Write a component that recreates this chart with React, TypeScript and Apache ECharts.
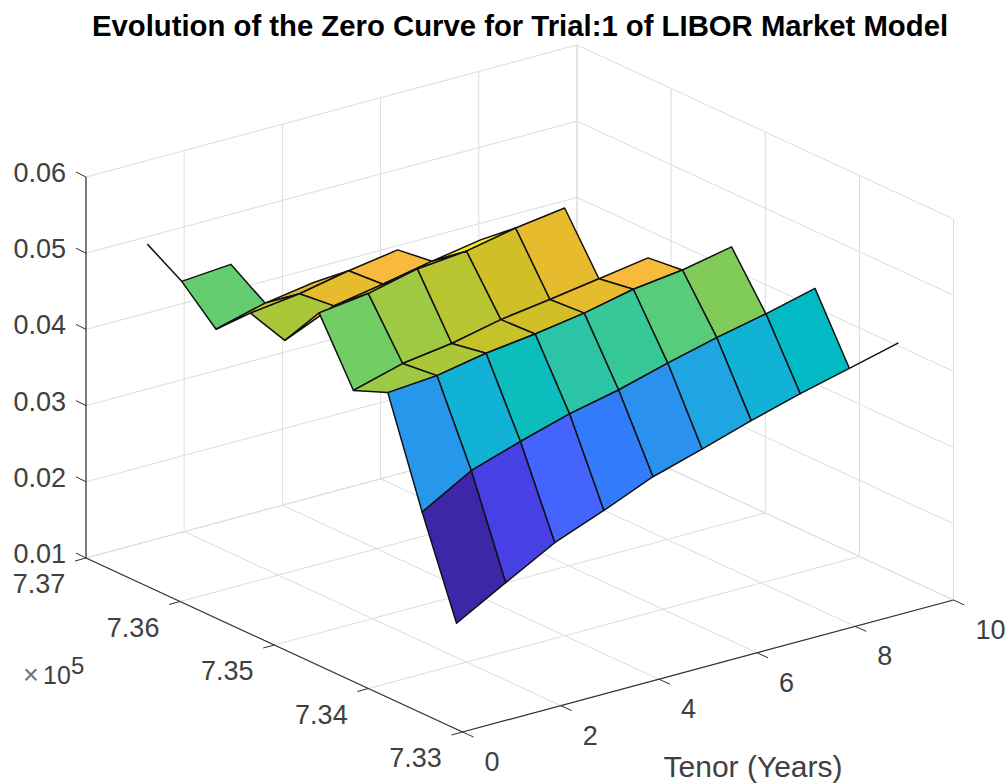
import React, { useEffect, useRef } from "react";
import * as echarts from "echarts";

// Simulation dates (serial day numbers), one per curve, earliest first
const dates = [733585, 733950, 734315, 734680, 735045, 735410, 735775, 736140, 736505, 736870];
const tenors = [1, 2, 3, 4, 5, 6, 7, 8, 9, 10];

// Zero rates: each later date has one tenor fewer
const curve1 = [0.0192, 0.0228, 0.0263, 0.0288, 0.0315, 0.0334, 0.0354, 0.0372, 0.0388, 0.0404];
const curve2 = [0.0317, 0.0354, 0.0375, 0.0394, 0.0408, 0.0426, 0.0442, 0.0456, 0.0472];
const curve3 = [0.0453, 0.0458, 0.047, 0.0478, 0.0488, 0.0502, 0.051, 0.0523];
const curve4 = [0.0435, 0.0453, 0.0462, 0.0476, 0.0485, 0.0495, 0.0505];
const curve5 = [0.0516, 0.0524, 0.0539, 0.0545, 0.0558, 0.0567];
const curve6 = [0.0459, 0.0487, 0.0498, 0.0511, 0.0522];
const curve7 = [0.0474, 0.0482, 0.0495, 0.0505];
const curve8 = [0.0432, 0.0449, 0.0459];
const curve9 = [0.0474, 0.0479];
const curve10 = [0.0502];
const curves = [curve1, curve2, curve3, curve4, curve5, curve6, curve7, curve8, curve9, curve10];

const tenorTicks = [0, 2, 4, 6, 8, 10];
const dateTicks = [733000, 734000, 735000, 736000, 737000];
const dateTickLabels = ["7.33", "7.34", "7.35", "7.36", "7.37"];
const rateTicks = [0.01, 0.02, 0.03, 0.04, 0.05, 0.06];

const parula = [
  [0.2422, 0.1504, 0.6603], [0.2504, 0.165, 0.7076], [0.2578, 0.1818, 0.7511], [0.2647, 0.1978, 0.7952],
  [0.2706, 0.2147, 0.8364], [0.2751, 0.2342, 0.871], [0.2783, 0.2559, 0.8991], [0.2803, 0.2782, 0.9221],
  [0.2813, 0.3006, 0.9414], [0.281, 0.3228, 0.9579], [0.2795, 0.3447, 0.9717], [0.276, 0.3667, 0.9829],
  [0.2699, 0.3892, 0.9906], [0.2602, 0.4123, 0.9952], [0.244, 0.4358, 0.9988], [0.2206, 0.4603, 0.9973],
  [0.1963, 0.4847, 0.9892], [0.1834, 0.5074, 0.9798], [0.1786, 0.5289, 0.9682], [0.1764, 0.5499, 0.952],
  [0.1687, 0.5703, 0.9359], [0.154, 0.5902, 0.9218], [0.146, 0.6091, 0.9079], [0.138, 0.6276, 0.8973],
  [0.1248, 0.6459, 0.8883], [0.1113, 0.6635, 0.8763], [0.0952, 0.6798, 0.8598], [0.0689, 0.6948, 0.8394],
  [0.0297, 0.7082, 0.8163], [0.0036, 0.7203, 0.7917], [0.0067, 0.7312, 0.766], [0.0433, 0.7411, 0.7394],
  [0.0964, 0.75, 0.712], [0.1408, 0.7584, 0.6842], [0.1717, 0.767, 0.6554], [0.1938, 0.7758, 0.6251],
  [0.2161, 0.7843, 0.5923], [0.247, 0.7918, 0.5567], [0.2906, 0.7973, 0.5188], [0.3406, 0.8008, 0.4789],
  [0.3909, 0.8029, 0.4354], [0.4456, 0.8024, 0.3909], [0.5044, 0.7993, 0.348], [0.5616, 0.7942, 0.3045],
  [0.6174, 0.7876, 0.2612], [0.672, 0.7793, 0.2227], [0.7242, 0.7698, 0.191], [0.7738, 0.7598, 0.1646],
  [0.8203, 0.7498, 0.1535], [0.8634, 0.7406, 0.1596], [0.9035, 0.733, 0.1774], [0.9393, 0.7288, 0.21],
  [0.9728, 0.7298, 0.2394], [0.9956, 0.7434, 0.2371], [0.997, 0.7659, 0.2199], [0.9952, 0.7861, 0.1967],
  [0.9892, 0.8137, 0.1816], [0.9786, 0.8396, 0.151], [0.9676, 0.8651, 0.1386], [0.961, 0.8906, 0.1276],
  [0.9597, 0.9135, 0.1423], [0.9628, 0.9373, 0.1265], [0.9691, 0.9606, 0.1064], [0.9769, 0.9839, 0.0805],
];

const FONT = '"Liberation Sans", Arial, Helvetica, sans-serif';
const TEXT = "#404040";
const AXIS = "#303030";
const GRID = "#dcdcdc";
const TICK_FONT = 27;

// Orthographic view of the box: pixel position of the near floor corner and edges of the box
const VIEW = { ox: 462.5, oy: 732, xx: 49.1, xy: -13.2, yx: -376.5, yy: -174, zy: -7620 };
function project(tenor: number, date: number, rate: number): number[] {
  const f = (date - 733000) / 4000;
  return [
    VIEW.ox + VIEW.xx * tenor + VIEW.yx * f,
    VIEW.oy + VIEW.xy * tenor + VIEW.yy * f + VIEW.zy * (rate - 0.01),
  ];
}

const allRates = curves.flat();
const zMin = Math.min(...allRates);
const zMax = Math.max(...allRates);
function cellColor(z: number): string {
  const i = Math.min(63, Math.floor(((z - zMin) / (zMax - zMin)) * 64));
  const [r, g, b] = parula[i];
  return `rgb(${Math.round(r * 255)},${Math.round(g * 255)},${Math.round(b * 255)})`;
}

// Surface cells, far ones first so that near ones paint over them
const cells: number[][] = [];
for (let r = curves.length - 2; r >= 0; r--) {
  for (let t = curves[r + 1].length - 2; t >= 0; t--) cells.push([r, t]);
}
// Mesh edges which belong to no complete cell
const looseEdges = [
  [0, 8, 0, 9],
  [8, 0, 9, 0],
];

const Z0 = rateTicks[0];
const Z1 = rateTicks[rateTicks.length - 1];
const T0 = tenorTicks[0];
const T1 = tenorTicks[tenorTicks.length - 1];
const D0 = dateTicks[0];
const D1 = dateTicks[dateTicks.length - 1];

type Seg = number[][];
const gridSegs: Seg[] = [];
for (const t of tenorTicks) {
  gridSegs.push([[t, D0, Z0], [t, D1, Z0]]);
  gridSegs.push([[t, D1, Z0], [t, D1, Z1]]);
}
for (const d of dateTicks) {
  gridSegs.push([[T0, d, Z0], [T1, d, Z0]]);
  gridSegs.push([[T1, d, Z0], [T1, d, Z1]]);
}
for (const z of rateTicks) {
  gridSegs.push([[T0, D1, z], [T1, D1, z]]);
  gridSegs.push([[T1, D0, z], [T1, D1, z]]);
}

const axisSegs: Seg[] = [
  [[T0, D1, Z1], [T0, D1, Z0]],
  [[T0, D1, Z0], [T0, D0, Z0]],
  [[T0, D0, Z0], [T1, D0, Z0]],
];

export default function App() {
  const ref = useRef<HTMLDivElement>(null);
  useEffect(() => {
    document.body.style.margin = "0";
    const chart = echarts.init(ref.current!, undefined, { renderer: "svg" });

    const px = (api: any, p: number[]) => api.coord(p);

    const segRender = (segs: Seg[], stroke: string, width: number) => (params: any, api: any) => {
      const s = segs[params.dataIndex];
      const a = px(api, project(s[0][0], s[0][1], s[0][2]));
      const b = px(api, project(s[1][0], s[1][1], s[1][2]));
      return {
        type: "line",
        shape: { x1: a[0], y1: a[1], x2: b[0], y2: b[1] },
        style: { stroke, lineWidth: width, fill: null },
      };
    };

    const tickItems: { from: number[]; dx: number; dy: number }[] = [
      ...tenorTicks.map((t) => ({ from: [t, D0, Z0], dx: 11, dy: 5 })),
      ...dateTicks.map((d) => ({ from: [T0, d, Z0], dx: -11, dy: 3 })),
      ...rateTicks.map((z) => ({ from: [T0, D1, z], dx: -10, dy: -5 })),
    ];

    const labelItems: { at: number[]; dx: number; dy: number; text: string; align: string }[] = [
      ...tenorTicks.map((t) => ({ at: [t, D0, Z0], dx: 22, dy: 30, text: String(t), align: "left" })),
      ...dateTicks.map((d, i) => ({ at: [T0, d, Z0], dx: -47, dy: 26, text: dateTickLabels[i], align: "center" })),
    ];

    const option: any = {
      animation: false,
      backgroundColor: "#ffffff",
      title: {
        text: "Evolution of the Zero Curve for Trial:1 of LIBOR Market Model",
        left: 515,
        top: 6,
        textAlign: "center",
        textStyle: { fontFamily: FONT, fontWeight: "bold", fontSize: 29.3, color: "#000000" },
      },
      grid: [
        { left: 0, top: 0, width: 1007, height: 784 },
        { left: 86, top: 173, width: 10, height: 381 },
      ],
      xAxis: [
        { type: "value", gridIndex: 0, min: 0, max: 1007, show: false },
        { type: "value", gridIndex: 1, min: 0, max: 1, show: false },
      ],
      yAxis: [
        { type: "value", gridIndex: 0, min: 0, max: 784, inverse: true, show: false },
        {
          type: "value",
          gridIndex: 1,
          min: 0.01,
          max: 0.06,
          interval: 0.01,
          splitLine: { show: false },
          axisTick: { show: false },
          axisLine: { show: false },
          axisLabel: {
            show: true,
            margin: 20,
            color: TEXT,
            fontFamily: FONT,
            fontSize: TICK_FONT,
            formatter: (v: number) => v.toFixed(2),
          },
        },
      ],
      series: [
        {
          type: "custom",
          coordinateSystem: "cartesian2d",
          xAxisIndex: 0,
          yAxisIndex: 0,
          silent: true,
          clip: false,
          data: gridSegs.map((_, i) => [i]),
          renderItem: segRender(gridSegs, GRID, 1),
        },
        {
          type: "custom",
          coordinateSystem: "cartesian2d",
          xAxisIndex: 0,
          yAxisIndex: 0,
          silent: true,
          clip: false,
          data: looseEdges,
          renderItem: (params: any, api: any) => {
            const [r0, t0, r1, t1] = looseEdges[params.dataIndex];
            const a = px(api, project(tenors[t0], dates[r0], curves[r0][t0]));
            const b = px(api, project(tenors[t1], dates[r1], curves[r1][t1]));
            return {
              type: "line",
              shape: { x1: a[0], y1: a[1], x2: b[0], y2: b[1] },
              style: { stroke: "#111111", lineWidth: 1.5, fill: null },
            };
          },
        },
        {
          type: "custom",
          coordinateSystem: "cartesian2d",
          xAxisIndex: 0,
          yAxisIndex: 0,
          silent: true,
          clip: false,
          data: cells,
          renderItem: (params: any, api: any) => {
            const [r, t] = cells[params.dataIndex];
            const pts = [
              project(tenors[t], dates[r], curves[r][t]),
              project(tenors[t + 1], dates[r], curves[r][t + 1]),
              project(tenors[t + 1], dates[r + 1], curves[r + 1][t + 1]),
              project(tenors[t], dates[r + 1], curves[r + 1][t]),
            ].map((p) => px(api, p));
            return {
              type: "polygon",
              shape: { points: pts },
              style: {
                fill: cellColor(curves[r][t]),
                stroke: "#111111",
                lineWidth: 1.5,
                lineJoin: "round",
              },
            };
          },
        },
        {
          type: "custom",
          coordinateSystem: "cartesian2d",
          xAxisIndex: 0,
          yAxisIndex: 0,
          silent: true,
          clip: false,
          data: axisSegs.map((_, i) => [i]),
          renderItem: segRender(axisSegs, AXIS, 1.2),
        },
        {
          type: "custom",
          coordinateSystem: "cartesian2d",
          xAxisIndex: 0,
          yAxisIndex: 0,
          silent: true,
          clip: false,
          data: tickItems.map((_, i) => [i]),
          renderItem: (params: any, api: any) => {
            const it = tickItems[params.dataIndex];
            const a = px(api, project(it.from[0], it.from[1], it.from[2]));
            return {
              type: "line",
              shape: { x1: a[0], y1: a[1], x2: a[0] + it.dx, y2: a[1] + it.dy },
              style: { stroke: AXIS, lineWidth: 1, fill: null },
            };
          },
        },
        {
          type: "custom",
          coordinateSystem: "cartesian2d",
          xAxisIndex: 0,
          yAxisIndex: 0,
          silent: true,
          clip: false,
          data: labelItems.map((_, i) => [i]),
          renderItem: (params: any, api: any) => {
            const it = labelItems[params.dataIndex];
            const a = px(api, project(it.at[0], it.at[1], it.at[2]));
            return {
              type: "text",
              style: {
                text: it.text,
                x: a[0] + it.dx,
                y: a[1] + it.dy,
                fill: TEXT,
                fontFamily: FONT,
                fontSize: TICK_FONT,
                align: it.align,
                verticalAlign: "middle",
              },
            };
          },
        },
      ],
      graphic: [
        {
          type: "text",
          x: 753,
          y: 766,
          style: {
            text: "Tenor (Years)",
            fill: TEXT,
            fontFamily: FONT,
            fontSize: 30,
            align: "center",
            verticalAlign: "middle",
          },
        },
        {
          type: "text",
          x: 23,
          y: 675,
          style: { text: "×", fill: "#707070", fontFamily: FONT, fontSize: 27, align: "left", verticalAlign: "middle" },
        },
        {
          type: "text",
          x: 43,
          y: 675,
          style: { text: "10", fill: TEXT, fontFamily: FONT, fontSize: 25, align: "left", verticalAlign: "middle" },
        },
        {
          type: "text",
          x: 71,
          y: 665,
          style: { text: "5", fill: TEXT, fontFamily: FONT, fontSize: 24, align: "left", verticalAlign: "middle" },
        },
      ],
    };
    chart.setOption(option);
    return () => chart.dispose();
  }, []);
  return <div ref={ref} style={{ position: "absolute", left: 0, top: 0, width: 1007, height: 784 }} />;
}
